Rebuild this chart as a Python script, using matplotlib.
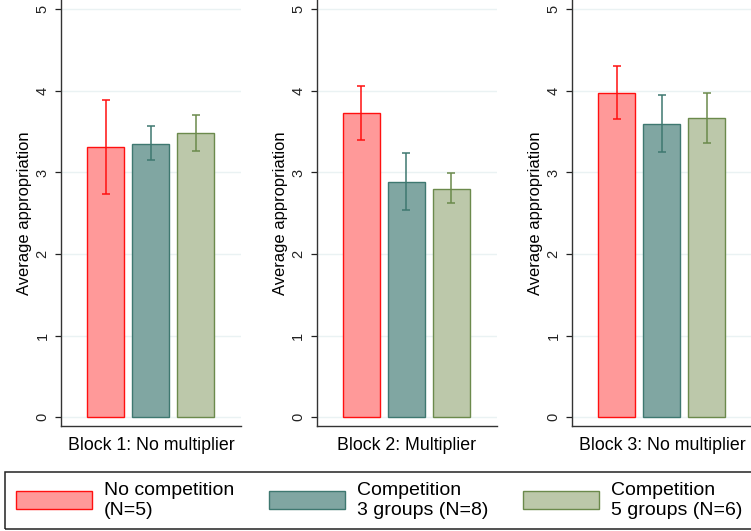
import matplotlib
matplotlib.use("Agg")
import matplotlib.pyplot as plt
from matplotlib.patches import Patch, Rectangle

plt.rcParams['font.family'] = ['Liberation Sans', 'DejaVu Sans']

# ---- data ----
blocks = ["Block 1: No multiplier", "Block 2: Multiplier", "Block 3: No multiplier"]
group_labels = ["No competition\n(N=5)", "Competition\n3 groups (N=8)", "Competition\n5 groups (N=6)"]

no_comp_mean = [3.31, 3.73, 3.97]
no_comp_hi = [3.89, 4.06, 4.30]
no_comp_lo = [2.74, 3.40, 3.65]

comp3_mean = [3.35, 2.88, 3.59]
comp3_hi = [3.57, 3.24, 3.95]
comp3_lo = [3.15, 2.54, 3.25]

comp5_mean = [3.48, 2.80, 3.67]
comp5_hi = [3.70, 2.99, 3.97]
comp5_lo = [3.26, 2.62, 3.36]

yticks = [0, 1, 2, 3, 4, 5]

# ---- styles ----
fills = ["#ff9999", "#80a6a2", "#bcc8aa"]
edges = ["#ff1010", "#3e7870", "#6b8a4c"]

W, H = 751, 531
fig = plt.figure(figsize=(W / 100, H / 100), dpi=100)

panel_lefts = [61, 316.7, 572]
ax_w = 180
ax_top = 0
ax_bot = 426

series = [
    (no_comp_mean, no_comp_lo, no_comp_hi),
    (comp3_mean, comp3_lo, comp3_hi),
    (comp5_mean, comp5_lo, comp5_hi),
]

for b, left in enumerate(panel_lefts):
    ax = fig.add_axes([left / W, (H - ax_bot) / H, ax_w / W, (ax_bot - ax_top) / H])
    for g, (m, lo, hi) in enumerate(series):
        ax.bar(g, m[b], width=0.82, color=fills[g], edgecolor=edges[g], linewidth=1.0, zorder=2)
        ax.errorbar(g, m[b], yerr=[[m[b] - lo[b]], [hi[b] - m[b]]], fmt='none',
                    ecolor=edges[g], elinewidth=1.1, capsize=3, capthick=1.1, zorder=3)
    ax.set_xlim(-0.99, 3.01)
    ax.set_ylim(-0.107, 5.114)
    ax.tick_params(axis='y', length=4.3, width=0.9, pad=4, colors='#222222',
                   labelsize=10.5, labelrotation=90)
    ax.tick_params(axis='x', bottom=False, labelbottom=False)
    ax.set_yticks(yticks)
    ax.set_yticklabels([str(t) for t in yticks], va='center')
    ax.grid(axis='y', color='#eaf2f3', linewidth=1.0, zorder=0)
    ax.set_axisbelow(True)
    for s in ['top', 'right']:
        ax.spines[s].set_visible(False)
    for s in ['left', 'bottom']:
        ax.spines[s].set_color('#333333')
        ax.spines[s].set_linewidth(1.0)
    ax.set_ylabel("Average appropriation", fontsize=11.9)
    ax.yaxis.set_label_coords(-0.161, 0.5)
    ax.set_xlabel(blocks[b], fontsize=12.8)
    ax.xaxis.set_label_coords(0.5, -0.026)

# legend
handles = [Patch(facecolor=fills[i], edgecolor=edges[i], linewidth=1.0) for i in range(3)]
fs_px = 19.44
leg = fig.legend(handles, group_labels, ncol=3, loc='center left',
                 bbox_to_anchor=(15.7 / W, 1 - 500.5 / H), bbox_transform=fig.transFigure,
                 frameon=False, fontsize=14, borderpad=0, borderaxespad=0,
                 handlelength=76 / fs_px, handleheight=20.7 / fs_px,
                 handletextpad=12.3 / fs_px, columnspacing=34.5 / fs_px)
for t in leg.get_texts():
    t.set_linespacing(1.25)

fig.patches.append(Rectangle((5 / W, 2 / H), 760 / W, 57 / H, transform=fig.transFigure,
                             fill=False, edgecolor='#222222', linewidth=1.1))

fig.savefig("out.png", dpi=100)
